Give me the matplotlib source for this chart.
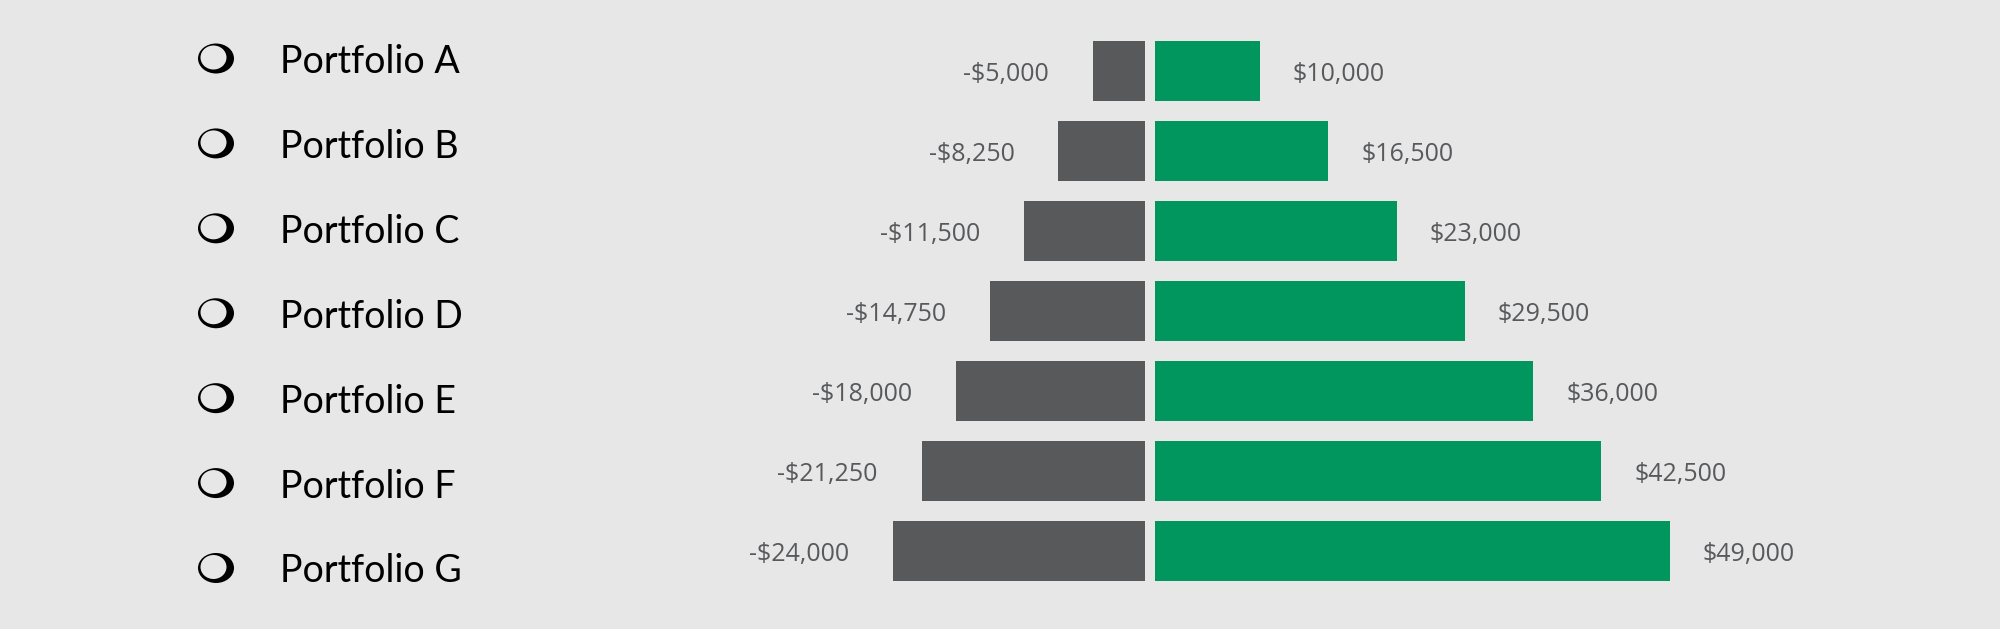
import matplotlib
matplotlib.use("Agg")
import matplotlib.pyplot as plt
from matplotlib.patches import Ellipse

# ---- data ----
categories = ["Portfolio A", "Portfolio B", "Portfolio C", "Portfolio D",
              "Portfolio E", "Portfolio F", "Portfolio G"]
losses = [5000, 8250, 11500, 14750, 18000, 21250, 24000]
gains = [10000, 16500, 23000, 29500, 36000, 42500, 49000]

# ---- style ----
BG = "#E7E7E8"
GRAY = "#58595B"
GREEN = "#00965E"
LABEL_C = "#58595B"
W, H = 2000, 629
DPI = 100
PX_PER_USD = 0.0105

fig = plt.figure(figsize=(W / DPI, H / DPI), dpi=DPI, facecolor=BG)

n = len(categories)
row_top_px = 71 - 40          # top of first row slot (pixels from top)
row_bot_px = 71 + 80 * (n - 1) + 40
ax_bottom = 1 - row_bot_px / H
ax_height = (row_bot_px - row_top_px) / H

left_max = 30000
right_max = 50000
gap_left_px, gap_right_px = 1145, 1155

axL = fig.add_axes([(gap_left_px - left_max * PX_PER_USD) / W, ax_bottom,
                    left_max * PX_PER_USD / W, ax_height])
axR = fig.add_axes([gap_right_px / W, ax_bottom,
                    right_max * PX_PER_USD / W, ax_height])

ypos = list(range(n))
axL.barh(ypos, losses, height=0.75, color=GRAY)
axR.barh(ypos, gains, height=0.75, color=GREEN)
axL.set_xlim(left_max, 0)
axR.set_xlim(0, right_max)

for ax in (axL, axR):
    ax.set_ylim(n - 0.5, -0.5)
    ax.axis("off")
    ax.patch.set_alpha(0)

val_font = dict(family="Open Sans", fontsize=18, color=LABEL_C)
for i, (lo, g) in enumerate(zip(losses, gains)):
    axL.annotate(f"-${lo:,}", xy=(lo, i), xytext=(-44 * 72 / DPI, -10 * 72 / DPI),
                 textcoords="offset points", ha="right", va="baseline", **val_font)
    axR.annotate(f"${g:,}", xy=(g, i), xytext=(33 * 72 / DPI, -10 * 72 / DPI),
                 textcoords="offset points", ha="left", va="baseline", **val_font)

# category labels with shadowed-circle bullets
lab_top, lab_bot = 58, 567.5
pitch = (lab_bot - lab_top) / (n - 1)
for i, cat in enumerate(categories):
    cy = lab_top + pitch * i
    fig.text(280 / W, 1 - (cy + 15) / H, cat, family="Lato", fontsize=27,
             color="black", ha="left", va="baseline")
    outer = Ellipse((216 / W, 1 - (cy + 0.5) / H), 36 / W, 30 / H,
                    transform=fig.transFigure, facecolor="black", edgecolor="none")
    inner = Ellipse((213.5 / W, 1 - (cy - 0.5) / H), 26 / W, 24 / H,
                    transform=fig.transFigure, facecolor=BG, edgecolor="none")
    fig.add_artist(outer)
    fig.add_artist(inner)

fig.savefig("out.png", dpi=DPI, facecolor=BG)
